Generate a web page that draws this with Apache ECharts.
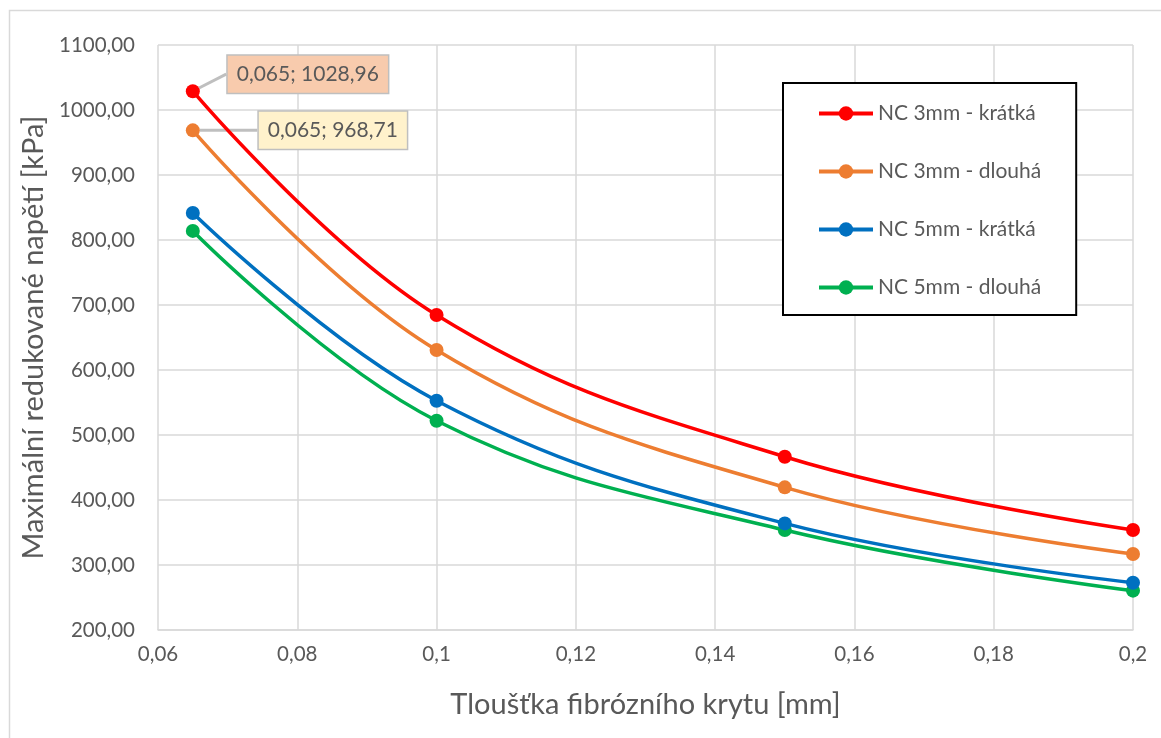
<!DOCTYPE html>
<html>
<head>
<meta charset="utf-8">
<script src="https://cdn.jsdelivr.net/npm/echarts@6/dist/echarts.min.js"></script>
<style>html,body{margin:0;padding:0;background:#fff;}#c{width:1161px;height:738px;}</style>
</head>
<body>
<div id="c"></div>
<script>
const xValues = [0.065, 0.1, 0.15, 0.2];
const seriesNames = ['NC 3mm - krátká', 'NC 3mm - dlouhá', 'NC 5mm - krátká', 'NC 5mm - dlouhá'];
const nc3Short = [1028.96, 684.6, 466.6, 353.8];
const nc3Long = [968.71, 630.8, 419.5, 317.0];
const nc5Short = [841.5, 552.8, 364.0, 272.8];
const nc5Long = [814.0, 522.0, 353.8, 260.5];
const colors = ['#FF0000', '#ED7D31', '#0070C0', '#00B050'];
const labelFills = ['#F8CBAD', '#FFF2CC'];
const labelOffsets = [[115, -17], [140, 0]];

const FONT = 'Lato';
const TXT = '#595959';
const fmtX = v => String(+(+v).toFixed(3)).replace('.', ',');
const fmtY = v => (+v).toFixed(2).replace('.', ',');

function build(idx, vals) {
  const data = xValues.map((x, i) => {
    const item = { value: [x, vals[i]] };
    if (i === 0 && idx < 2) {
      item.label = {
        show: true,
        position: 'inside',
        formatter: p => fmtX(p.value[0]) + '; ' + fmtY(p.value[1]),
        backgroundColor: labelFills[idx],
        borderColor: '#BFBFBF',
        borderWidth: 1.5,
        padding: [9, 9, 7, 9],
        color: TXT,
        fontFamily: FONT,
        fontSize: 21
      };
      item.labelLine = { show: true, lineStyle: { color: '#BFBFBF', width: 3 } };
    }
    return item;
  });
  return {
    name: seriesNames[idx],
    type: 'line',
    smooth: 0.4,
    symbol: 'circle',
    symbolSize: 14,
    color: colors[idx],
    lineStyle: { width: 3.5, color: colors[idx] },
    itemStyle: { color: colors[idx] },
    labelLayout: idx < 2 ? { dx: labelOffsets[idx][0], dy: labelOffsets[idx][1] } : undefined,
    data: data,
    z: 10 - idx
  };
}

const chart = echarts.init(document.getElementById('c'));
chart.setOption({
  animation: false,
  backgroundColor: '#fff',
  graphic: [{
    type: 'rect', left: 7, top: 8, shape: { width: 1300, height: 900 },
    style: { fill: 'none', stroke: '#D9D9D9', lineWidth: 1.5 }, silent: true, z: -1
  }],
  grid: { left: 158, right: 28, top: 45, bottom: 108, containLabel: false },
  legend: {
    orient: 'vertical',
    left: 783, top: 83,
    data: seriesNames,
    borderColor: '#000', borderWidth: 2,
    padding: [20, 35, 17, 34],
    itemWidth: 54, itemHeight: 18, itemGap: 37,
    lineStyle: { width: 4 },
    textStyle: { color: TXT, fontFamily: FONT, fontSize: 21, lineHeight: 20 },
    backgroundColor: '#fff'
  },
  xAxis: {
    type: 'value',
    min: 0.06, max: 0.2, interval: 0.02,
    name: 'Tloušťka fibrózního krytu [mm]',
    nameLocation: 'middle', nameGap: 60,
    nameTextStyle: { color: TXT, fontFamily: FONT, fontSize: 29 },
    axisLine: { show: true, lineStyle: { color: '#D9D9D9', width: 1.5 } },
    axisTick: { show: false },
    axisLabel: { color: TXT, fontFamily: FONT, fontSize: 20.5, margin: 14, formatter: fmtX },
    splitLine: { show: true, lineStyle: { color: '#D9D9D9', width: 1.5 } }
  },
  yAxis: {
    type: 'value',
    min: 200, max: 1100, interval: 100,
    name: 'Maximální redukované napětí [kPa]',
    nameLocation: 'middle', nameGap: 108,
    nameTextStyle: { color: TXT, fontFamily: FONT, fontSize: 29 },
    axisLine: { show: false },
    axisTick: { show: false },
    axisLabel: { color: TXT, fontFamily: FONT, fontSize: 20.5, margin: 23, formatter: fmtY },
    splitLine: { show: true, lineStyle: { color: '#D9D9D9', width: 1.5 } }
  },
  series: [build(0, nc3Short), build(1, nc3Long), build(2, nc5Short), build(3, nc5Long)]
});
</script>
</body>
</html>
